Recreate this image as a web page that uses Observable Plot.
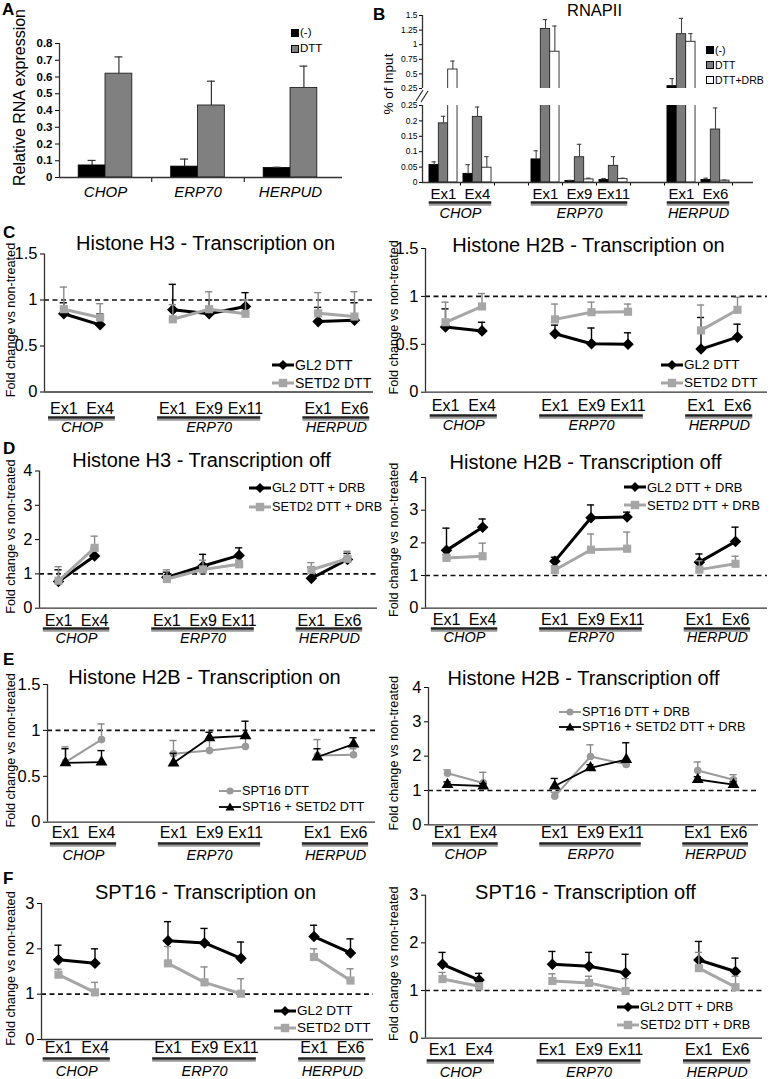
<!DOCTYPE html>
<html><head><meta charset="utf-8">
<script src="https://cdn.jsdelivr.net/npm/d3@7"></script>
<script src="https://cdn.jsdelivr.net/npm/@observablehq/plot@0.6"></script>
<style>
body{margin:0;background:#fff;}
#fig{position:relative;width:777px;height:1079px;font-family:"Liberation Sans",Arial,Helvetica,sans-serif;color:#000;overflow:hidden;background:#fff}
.letter{position:absolute;font-weight:bold;font-size:17px;line-height:1}
.lrow{position:absolute;display:flex;align-items:center;white-space:nowrap;line-height:1;height:16px}
.txt{position:absolute;white-space:nowrap;line-height:1}
</style></head><body><div id="fig"></div>
<script>
// ---------------- DATA ----------------
const genes = ["CHOP", "ERP70", "HERPUD"];
const exons = [["Ex1", "Ex4"], ["Ex1", "Ex9", "Ex11"], ["Ex1", "Ex6"]];

// Panel A: relative RNA expression
const aSeries = ["(-)", "DTT"];
const aNeg = [0.072, 0.065, 0.057];
const aNegErr = [0.03, 0.045, 0.004];
const aDtt = [0.62, 0.43, 0.535];
const aDttErr = [0.10, 0.145, 0.13];
const aTicks = [0, 0.1, 0.2, 0.3, 0.4, 0.5, 0.6, 0.7, 0.8];

// Panel B: RNAPII % of input (exon order CHOP Ex1,Ex4 | ERP70 Ex1,Ex9,Ex11 | HERPUD Ex1,Ex6)
const bSeries = ["(-)", "DTT", "DTT+DRB"];
const bNeg = [0.057, 0.028, 0.075, 0.005, 0.008, 0.29, 0.008];
const bNegErr = [0.01, 0.03, 0.028, 0.002, 0.005, 0.13, 0.006];
const bDtt = [0.192, 0.213, 1.27, 0.082, 0.054, 1.18, 0.172];
const bDttErr = [0.023, 0.032, 0.16, 0.042, 0.03, 0.27, 0.07];
const bDrb = [0.575, 0.048, 0.88, 0.01, 0.011, 1.05, 0.006];
const bDrbErr = [0.145, 0.036, 0.44, 0.004, 0.003, 0.14, 0.002];
const bTicksUpper = [0.25, 0.5, 0.75, 1, 1.25, 1.5];
const bTicksLower = [0, 0.05, 0.1, 0.15, 0.2, 0.25];

// C left: Histone H3 - Transcription on
const cL_GL2 = [0.85, 0.73, 0.895, 0.85, 0.93, 0.765, 0.78];
const cL_GL2_err = [0.12, 0.12, 0.275, 0.15, 0.15, 0.155, 0.19];
const cL_SETD2 = [0.90, 0.81, 0.79, 0.90, 0.85, 0.855, 0.82];
const cL_SETD2_err = [0.24, 0.15, 0.16, 0.19, 0.15, 0.225, 0.27];
// C right: Histone H2B - Transcription on
const cR_GL2 = [0.68, 0.64, 0.61, 0.505, 0.50, 0.45, 0.575];
const cR_GL2_err = [0.19, 0.09, 0.09, 0.165, 0.12, 0.33, 0.135];
const cR_SETD2 = [0.73, 0.895, 0.76, 0.835, 0.84, 0.645, 0.86];
const cR_SETD2_err = [0.21, 0.135, 0.16, 0.105, 0.08, 0.265, 0.13];
// D left: Histone H3 - Transcription off
const dL_GL2 = [0.78, 1.52, 0.90, 1.23, 1.54, 0.87, 1.42];
const dL_GL2_err = [0.34, 0.23, 0.15, 0.34, 0.22, 0.33, 0.18];
const dL_SETD2 = [0.80, 1.76, 0.85, 1.13, 1.28, 1.12, 1.44];
const dL_SETD2_err = [0.41, 0.34, 0.27, 0.27, 0.12, 0.21, 0.22];
// D right: Histone H2B - Transcription off
const dR_GL2 = [1.77, 2.48, 1.44, 2.77, 2.79, 1.41, 2.04];
const dR_GL2_err = [0.68, 0.25, 0.12, 0.39, 0.15, 0.25, 0.44];
const dR_SETD2 = [1.54, 1.59, 1.17, 1.79, 1.82, 1.18, 1.36];
const dR_SETD2_err = [0.11, 0.40, 0.13, 0.48, 0.51, 0.27, 0.23];
// E left: Histone H2B - Transcription on (SPT16)
const eL_SPT16 = [0.655, 0.90, 0.745, 0.78, 0.825, 0.727, 0.735];
const eL_SPT16_err = [0.165, 0.17, 0.145, 0.12, 0.125, 0.173, 0.065];
const eL_SPT16SETD2 = [0.647, 0.655, 0.644, 0.92, 0.94, 0.71, 0.85];
const eL_SPT16SETD2_err = [0.153, 0.125, 0.106, 0.06, 0.16, 0.09, 0.07];
// E right: Histone H2B - Transcription off (SPT16)
const eR_SPT16 = [1.50, 1.22, 0.83, 1.99, 1.76, 1.58, 1.31];
const eR_SPT16_err = [0.10, 0.31, 0.12, 0.34, 0.09, 0.25, 0.15];
const eR_SPT16SETD2 = [1.17, 1.13, 1.13, 1.66, 1.90, 1.32, 1.17];
const eR_SPT16SETD2_err = [0.08, 0.07, 0.22, 0.09, 0.49, 0.08, 0.08];
// F left: SPT16 - Transcription on
const fL_GL2 = [1.76, 1.68, 2.18, 2.13, 1.79, 2.27, 1.91];
const fL_GL2_err = [0.32, 0.32, 0.42, 0.32, 0.36, 0.25, 0.31];
const fL_SETD2 = [1.43, 1.04, 1.68, 1.26, 1.01, 1.82, 1.30];
const fL_SETD2_err = [0.12, 0.22, 0.37, 0.34, 0.33, 0.18, 0.26];
// F right: SPT16 - Transcription off
const fR_GL2 = [1.55, 1.22, 1.55, 1.51, 1.37, 1.64, 1.40];
const fR_GL2_err = [0.25, 0.14, 0.27, 0.29, 0.39, 0.39, 0.28];
const fR_SETD2 = [1.24, 1.09, 1.20, 1.16, 0.99, 1.47, 1.07];
const fR_SETD2_err = [0.14, 0.06, 0.15, 0.14, 0.26, 0.33, 0.23];

const yLabel = "Fold change vs non-treated";

// ---------------- LAYOUT HELPERS ----------------
const FONT = '"Liberation Sans", Arial, Helvetica, sans-serif';
const fig = document.getElementById("fig");

// slot positions along the x axis (one empty slot between genes)
const slots = [];
{
  let p = 0;
  genes.forEach((g, gi) => {
    exons[gi].forEach(e => { slots.push({gene: g, exon: e, pos: p}); p++; });
    p++;
  });
}
const lastPos = d3.max(slots, d => d.pos);
const geneSpans = genes.map(g => {
  const s = slots.filter(d => d.gene === g);
  return {gene: g, first: s[0].pos, last: s[s.length - 1].pos};
});

function place(node, left, top) {
  node.style.position = "absolute";
  node.style.left = left + "px";
  node.style.top = top + "px";
  fig.appendChild(node);
  return node;
}
function text(str, left, top, css) {
  const d = document.createElement("div");
  d.className = "txt";
  d.textContent = str;
  Object.assign(d.style, css || {});
  return place(d, left, top);
}
const baseStyle = (fs, extra) => Object.assign({
  fontFamily: FONT, fontSize: fs, color: "#000", background: "none",
  maxWidth: "none", overflow: "visible"
}, extra || {});

const AX = {stroke: "#333", strokeWidth: 1.3};

// ---------------- STYLES OF SERIES ----------------
const sGL2 = {color: "#000", symbol: "diamond2", r: 5.2, width: 3, err: "#000"};
const sSETD2 = {color: "#a6a6a6", symbol: "square", r: 4.6, width: 3, err: "#8a8a8a"};
const sSPT = {color: "#9a9a9a", symbol: "circle", r: 3.8, width: 2, err: "#888"};
const sSPTSETD2 = {color: "#000", symbol: "triangle", r: 4.4, width: 1.8, err: "#000"};

function swatch(st) {
  const cx = 11, cy = 6;
  let shape;
  if (st.symbol === "diamond2") {
    const s = 5; shape = `<path d="M${cx},${cy - s}L${cx + s},${cy}L${cx},${cy + s}L${cx - s},${cy}Z" fill="${st.color}"/>`;
  } else if (st.symbol === "square") {
    shape = `<rect x="${cx - 4.2}" y="${cy - 4.2}" width="8.4" height="8.4" fill="${st.color}"/>`;
  } else if (st.symbol === "circle") {
    shape = `<circle cx="${cx}" cy="${cy}" r="3.6" fill="${st.color}"/>`;
  } else {
    shape = `<path d="M${cx},${cy - 4.5}L${cx + 4.5},${cy + 3.5}L${cx - 4.5},${cy + 3.5}Z" fill="${st.color}"/>`;
  }
  return `<svg width="22" height="12" style="display:block;overflow:visible"><line x1="0" y1="${cy}" x2="22" y2="${cy}" stroke="${st.color}" stroke-width="${st.width}"/>${shape}</svg>`;
}

// ---------------- LINE PANELS ----------------
function linePanel(c) {
  const sp = (c.lastX - c.firstX) / lastPos;
  const xlo = -(c.firstX - c.axisX) / sp;
  const xhi = lastPos + (c.endX - c.lastX) / sp;
  const capW = 3.6 / sp;
  const marks = [];
  marks.push(Plot.ruleY([1], {stroke: "#111", strokeWidth: 1.6, strokeDasharray: "5,3.5"}));
  c.series.forEach(s => {
    const data = s.values.map((v, i) => ({...slots[i], value: v, top: v + s.errs[i]}));
    marks.push(Plot.ruleX(data, {x: "pos", y1: "value", y2: "top", stroke: s.style.err, strokeWidth: 1.4}));
    marks.push(Plot.ruleY(data, {y: "top", x1: d => d.pos - capW, x2: d => d.pos + capW, stroke: s.style.err, strokeWidth: 1.4}));
    marks.push(Plot.line(data, {x: "pos", y: "value", z: "gene", stroke: s.style.color, strokeWidth: s.style.width}));
    marks.push(Plot.dot(data, {x: "pos", y: "value", symbol: s.style.symbol, r: s.style.r, fill: s.style.color, stroke: "none"}));
  });
  marks.push(Plot.ruleX([xlo], AX));
  marks.push(Plot.ruleY([0], AX));
  // exon labels, gene underlines and gene names under the axis
  marks.push(Plot.text(slots, {x: "pos", y: () => 0, text: "exon", dy: c.exY - c.y0Y, fontSize: 16, lineAnchor: "middle"}));
  marks.push(Plot.ruleY(geneSpans, {y: () => 0, x1: d => d.first - 0.42, x2: d => d.last + 0.42, dy: c.lineY - c.y0Y + 2.2, stroke: "#9a9a9a", strokeWidth: 2}));
  marks.push(Plot.ruleY(geneSpans, {y: () => 0, x1: d => d.first - 0.42, x2: d => d.last + 0.42, dy: c.lineY - c.y0Y, stroke: "#222", strokeWidth: 2.4}));
  marks.push(Plot.text(geneSpans, {x: d => (d.first + d.last) / 2, y: () => 0, text: "gene", dy: c.geneY - c.y0Y, fontSize: 14.5, fontStyle: "italic", lineAnchor: "middle"}));
  // title and y label
  const frameMidX = (c.axisX + c.endX) / 2;
  marks.push(Plot.text([c.title], {frameAnchor: "top", textAnchor: "middle", lineAnchor: "middle", dx: c.titleX - frameMidX, dy: c.titleY - c.yTopY, fontSize: 20}));
  marks.push(Plot.text([yLabel], {frameAnchor: "left", textAnchor: "middle", lineAnchor: "middle", rotate: -90, dx: c.ylabX - c.axisX, dy: -3, fontSize: 12.7}));

  const plot = Plot.plot({
    width: c.width, height: c.bottom - c.top,
    marginTop: c.yTopY - c.top, marginBottom: c.bottom - c.y0Y,
    marginLeft: c.axisX - c.left, marginRight: c.left + c.width - c.endX,
    x: {domain: [xlo, xhi], axis: null},
    y: {domain: [0, c.yMax], ticks: c.yTicks, tickSize: 4, tickPadding: 3, tickFormat: d => String(d), label: null},
    style: baseStyle("16.5px"),
    marks
  });
  place(plot, c.left, c.top);

  // legend
  c.series.forEach((s, i) => {
    const row = document.createElement("div");
    row.className = "lrow";
    row.style.fontSize = c.legFs + "px";
    row.innerHTML = swatch(s.style) + `<span style="margin-left:1px">${s.name}</span>`;
    place(row, c.legX, c.legY[i] - 8);
  });
}

const L = {left: 0, width: 385};
const R = {left: 385, width: 392};

// ---------------- PANEL A ----------------
{
  const c = {left: 0, top: 0, width: 370, height: 205, axisX: 59, endX: 342, firstX: 105, lastX: 290, yTopY: 43, y0Y: 177};
  const sp = (c.lastX - c.firstX) / (genes.length - 1);
  const xlo = -(c.firstX - c.axisX) / sp;
  const xhi = (genes.length - 1) + (c.endX - c.lastX) / sp;
  const bw = 0.29;
  const neg = genes.map((g, i) => ({gene: g, i, value: aNeg[i], top: aNeg[i] + aNegErr[i]}));
  const dtt = genes.map((g, i) => ({gene: g, i, value: aDtt[i], top: aDtt[i] + aDttErr[i]}));
  const cap = 4 / sp;
  const plot = Plot.plot({
    width: c.width, height: c.height,
    marginTop: c.yTopY - c.top, marginBottom: c.top + c.height - c.y0Y,
    marginLeft: c.axisX - c.left, marginRight: c.left + c.width - c.endX,
    x: {domain: [xlo, xhi], ticks: [0.5, 1.5], tickFormat: () => "", tickSize: 5, label: null},
    y: {domain: [0, 0.8], ticks: aTicks, tickSize: 4, tickPadding: 3, tickFormat: d => d === 0 ? "0" : d.toFixed(1), label: null},
    style: baseStyle("11.5px", {fontWeight: "bold"}),
    marks: [
      Plot.rectY(neg, {x1: d => d.i - bw, x2: d => d.i, y1: () => 0, y2: "value", fill: "#000", stroke: "#000", strokeWidth: 0.8}),
      Plot.rectY(dtt, {x1: d => d.i, x2: d => d.i + bw, y1: () => 0, y2: "value", fill: "#808080", stroke: "#111", strokeWidth: 0.8}),
      Plot.ruleX(neg, {x: d => d.i - bw / 2, y1: "value", y2: "top", stroke: "#333", strokeWidth: 1.2}),
      Plot.ruleY(neg, {y: "top", x1: d => d.i - bw / 2 - cap, x2: d => d.i - bw / 2 + cap, stroke: "#333", strokeWidth: 1.2}),
      Plot.ruleX(dtt, {x: d => d.i + bw / 2, y1: "value", y2: "top", stroke: "#333", strokeWidth: 1.2}),
      Plot.ruleY(dtt, {y: "top", x1: d => d.i + bw / 2 - cap, x2: d => d.i + bw / 2 + cap, stroke: "#333", strokeWidth: 1.2}),
      Plot.ruleX([xlo], AX),
      Plot.ruleY([0], AX),
      Plot.text(genes, {x: (d, i) => i, y: () => 0, text: d => d, dy: 192 - c.y0Y, fontSize: 15, fontStyle: "italic", fontWeight: "normal", lineAnchor: "middle"}),
      Plot.text(["Relative RNA expression"], {frameAnchor: "left", textAnchor: "middle", lineAnchor: "middle", rotate: -90, dx: 19 - c.axisX, dy: -13, fontSize: 16, fontWeight: "normal"})
    ]
  });
  place(plot, c.left, c.top);
  // legend
  [["#000", aSeries[0], 33], ["#808080", aSeries[1], 49]].forEach(([col, name, y]) => {
    const row = document.createElement("div");
    row.className = "lrow";
    row.style.fontSize = "11.5px";
    row.innerHTML = `<span style="display:inline-block;width:6px;height:6px;background:${col};border:0.6px solid #000;margin-right:1px"></span>${name}`;
    place(row, 291, y - 8);
  });
}

// ---------------- PANEL B ----------------
{
  const axisX = 422, endX = 753, firstX = 443, lastX = 715;
  const sp = (lastX - firstX) / lastPos;
  const xlo = -(firstX - axisX) / sp;
  const xhi = lastPos + (endX - lastX) / sp;
  const bw = 0.275;
  const cap = 2.2 / sp;
  const vals = [bNeg, bDtt, bDrb], errs = [bNegErr, bDttErr, bDrbErr];
  const fills = ["#000", "#7c7c7c", "#fff"];
  const strokes = ["#000", "#222", "#222"];
  const bars = [];
  bSeries.forEach((s, k) => slots.forEach((d, i) => bars.push({...d, k, series: s, value: vals[k][i], top: vals[k][i] + errs[k][i]})));
  const barMarks = () => {
    const m = [];
    bSeries.forEach((s, k) => {
      const data = bars.filter(b => b.k === k);
      m.push(Plot.rectY(data, {x1: d => d.pos + (k - 1.5) * bw, x2: d => d.pos + (k - 0.5) * bw, y1: () => 0, y2: "value", fill: fills[k], stroke: strokes[k], strokeWidth: 0.9, clip: true}));
      m.push(Plot.ruleX(data, {x: d => d.pos + (k - 1) * bw, y1: "value", y2: "top", stroke: "#444", strokeWidth: 1.1, clip: true}));
      m.push(Plot.ruleY(data, {y: "top", x1: d => d.pos + (k - 1) * bw - cap, x2: d => d.pos + (k - 1) * bw + cap, stroke: "#444", strokeWidth: 1.1, clip: true}));
    });
    return m;
  };
  const fmt = d => String(+d.toFixed(2));
  // upper segment
  const up = Plot.plot({
    width: 407, height: 92, marginTop: 15, marginBottom: 4, marginLeft: axisX - 370, marginRight: 777 - endX,
    x: {domain: [xlo, xhi], axis: null},
    y: {domain: [0.25, 1.5], ticks: bTicksUpper, tickSize: 3, tickPadding: 2, tickFormat: fmt, label: null},
    style: baseStyle("8.5px"),
    marks: [...barMarks(), Plot.ruleX([xlo], AX)]
  });
  place(up, 370, 0);
  // lower segment
  const y0Y = 182;
  const low = Plot.plot({
    width: 407, height: 122, marginTop: 5, marginBottom: 40, marginLeft: axisX - 370, marginRight: 777 - endX,
    x: {domain: [xlo, xhi], ticks: d3.range(0, lastPos + 1).map(i => i + 0.5), tickFormat: () => "", tickSize: 3.5, label: null},
    y: {domain: [0, 0.25], ticks: bTicksLower, tickSize: 3, tickPadding: 2, tickFormat: fmt, label: null},
    style: baseStyle("8.5px"),
    marks: [
      ...barMarks(),
      Plot.ruleX([xlo], AX),
      Plot.ruleY([0], AX),
      Plot.text(slots, {x: "pos", y: () => 0, text: "exon", dy: 193.5 - y0Y, fontSize: 15, lineAnchor: "middle"}),
      Plot.ruleY(geneSpans, {y: () => 0, x1: d => d.first - 0.42, x2: d => d.last + 0.42, dy: 204.2 - y0Y, stroke: "#9a9a9a", strokeWidth: 2}),
      Plot.ruleY(geneSpans, {y: () => 0, x1: d => d.first - 0.42, x2: d => d.last + 0.42, dy: 202 - y0Y, stroke: "#222", strokeWidth: 2.4}),
      Plot.text(geneSpans, {x: d => (d.first + d.last) / 2, y: () => 0, text: "gene", dy: 213 - y0Y, fontSize: 14.5, fontStyle: "italic", lineAnchor: "middle"})
    ]
  });
  place(low, 370, 100);
  // axis break mark
  const br = document.createElement("div");
  br.innerHTML = `<svg width="18" height="16" style="display:block"><line x1="2" y1="13" x2="9" y2="2" stroke="#222" stroke-width="1.1"/><line x1="7" y1="14" x2="14" y2="3" stroke="#222" stroke-width="1.1"/></svg>`;
  place(br, 414, 88);
  // title, y label, legend
  text("RNAPII", 567, 2, {fontSize: "16.5px"});
  text("% of Input", 389 - 40, 84 - 8, {fontSize: "13.5px", width: "80px", textAlign: "center", transform: "rotate(-90deg)", height: "16px", lineHeight: "16px"});
  [["#000", 50], ["#7c7c7c", 65], ["#fff", 80]].forEach(([col, y], k) => {
    const row = document.createElement("div");
    row.className = "lrow";
    row.style.fontSize = "10.5px";
    row.innerHTML = `<span style="display:inline-block;width:5.5px;height:5.5px;background:${col};border:0.8px solid #000;margin-right:1.5px"></span>${bSeries[k]}`;
    place(row, 706, y - 8);
  });
}

// ---------------- PANELS C-F ----------------
const ser = (name, values, errs, style) => ({name, values, errs, style});

linePanel({...L, top: 226, bottom: 440, axisX: 44, firstX: 63.3, lastX: 354, endX: 373, yTopY: 253.5, y0Y: 391.5,
  yMax: 1.5, yTicks: [0, 0.5, 1, 1.5], title: "Histone H3 - Transcription on", titleX: 205, titleY: 243,
  exY: 408, lineY: 417, geneY: 427, ylabX: 10, legX: 272, legY: [365, 383], legFs: 14,
  series: [ser("GL2 DTT", cL_GL2, cL_GL2_err, sGL2), ser("SETD2 DTT", cL_SETD2, cL_SETD2_err, sSETD2)]});

linePanel({...R, top: 226, bottom: 440, axisX: 425, firstX: 445, lastX: 737, endX: 767, yTopY: 248, y0Y: 391.7,
  yMax: 1.5, yTicks: [0, 0.5, 1, 1.5], title: "Histone H2B - Transcription on", titleX: 588, titleY: 245,
  exY: 405, lineY: 415, geneY: 425, ylabX: 393, legX: 661, legY: [365, 383], legFs: 13.5,
  series: [ser("GL2 DTT", cR_GL2, cR_GL2_err, sGL2), ser("SETD2 DTT", cR_SETD2, cR_SETD2_err, sSETD2)]});

linePanel({...L, top: 444, bottom: 650, axisX: 39, firstX: 58, lastX: 347, endX: 377, yTopY: 470.5, y0Y: 607.7,
  yMax: 4, yTicks: [0, 1, 2, 3, 4], title: "Histone H3 - Transcription off", titleX: 201, titleY: 460,
  exY: 620, lineY: 628, geneY: 638, ylabX: 10, legX: 249, legY: [488, 507], legFs: 12.7,
  series: [ser("GL2 DTT + DRB", dL_GL2, dL_GL2_err, sGL2), ser("SETD2 DTT + DRB", dL_SETD2, dL_SETD2_err, sSETD2)]});

linePanel({...R, top: 444, bottom: 650, axisX: 425, firstX: 446, lastX: 735, endX: 767, yTopY: 477, y0Y: 607.7,
  yMax: 4, yTicks: [0, 1, 2, 3, 4], title: "Histone H2B - Transcription off", titleX: 585, titleY: 462,
  exY: 619, lineY: 628, geneY: 637, ylabX: 393, legX: 624, legY: [487, 505], legFs: 13,
  series: [ser("GL2 DTT + DRB", dR_GL2, dR_GL2_err, sGL2), ser("SETD2 DTT + DRB", dR_SETD2, dR_SETD2_err, sSETD2)]});

linePanel({...L, top: 660, bottom: 863, axisX: 47, firstX: 65, lastX: 353, endX: 375, yTopY: 684, y0Y: 821.7,
  yMax: 1.5, yTicks: [0, 0.5, 1, 1.5], title: "Histone H2B - Transcription on", titleX: 204, titleY: 677,
  exY: 832, lineY: 843, geneY: 855, ylabX: 10, legX: 219, legY: [791, 807], legFs: 12.7,
  series: [ser("SPT16 DTT", eL_SPT16, eL_SPT16_err, sSPT), ser("SPT16 + SETD2 DTT", eL_SPT16SETD2, eL_SPT16SETD2_err, sSPTSETD2)]});

linePanel({...R, top: 660, bottom: 863, axisX: 428, firstX: 447, lastX: 733, endX: 758, yTopY: 687, y0Y: 824.3,
  yMax: 4, yTicks: [0, 1, 2, 3, 4], title: "Histone H2B - Transcription off", titleX: 583, titleY: 678,
  exY: 832.5, lineY: 843, geneY: 854, ylabX: 393, legX: 559, legY: [712, 727], legFs: 12.7,
  series: [ser("SPT16 DTT + DRB", eR_SPT16, eR_SPT16_err, sSPT), ser("SPT16 + SETD2 DTT + DRB", eR_SPT16SETD2, eR_SPT16SETD2_err, sSPTSETD2)]});

linePanel({...L, top: 873, bottom: 1079, axisX: 41, firstX: 58, lastX: 350, endX: 373, yTopY: 903, y0Y: 1039,
  yMax: 3, yTicks: [0, 1, 2, 3], title: "SPT16 - Transcription on", titleX: 205, titleY: 892,
  exY: 1047, lineY: 1058, geneY: 1071, ylabX: 10, legX: 274, legY: [1011, 1028], legFs: 13.5,
  series: [ser("GL2 DTT", fL_GL2, fL_GL2_err, sGL2), ser("SETD2 DTT", fL_SETD2, fL_SETD2_err, sSETD2)]});

linePanel({...R, top: 873, bottom: 1079, axisX: 425, firstX: 442, lastX: 735, endX: 762, yTopY: 894.7, y0Y: 1037.7,
  yMax: 3, yTicks: [0, 1, 2, 3], title: "SPT16 - Transcription off", titleX: 585, titleY: 892,
  exY: 1049, lineY: 1060, geneY: 1071.5, ylabX: 393, legX: 617, legY: [1007, 1025], legFs: 12.7,
  series: [ser("GL2 DTT + DRB", fR_GL2, fR_GL2_err, sGL2), ser("SETD2 DTT + DRB", fR_SETD2, fR_SETD2_err, sSETD2)]});

// ---------------- PANEL LETTERS ----------------
[["A", 2, 1], ["B", 373, 6], ["C", 3, 224], ["D", 3, 440], ["E", 3, 651], ["F", 3, 870]].forEach(([t, x, y]) => {
  const d = document.createElement("div");
  d.className = "letter";
  d.textContent = t;
  place(d, x, y);
});
</script></body></html>
